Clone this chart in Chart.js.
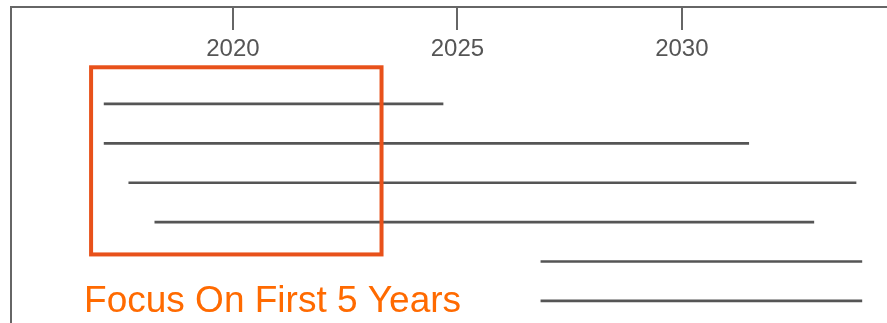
<!DOCTYPE html>
<html>
<head>
<meta charset="utf-8">
<script src="https://cdn.jsdelivr.net/npm/chart.js"></script>
<style>
  html, body { margin: 0; padding: 0; background: #fff; }
  #wrap { width: 887px; height: 323px; }
</style>
</head>
<body>
<div id="wrap"><canvas id="timeline"></canvas></div>
<script>
    // row index (top to bottom) and start / end year of each line
    var rows = [0, 1, 2, 3, 4, 5];
    var startYears = [2017.13, 2017.13, 2017.68, 2018.26, 2026.86, 2026.86];
    var endYears = [2024.68, 2031.49, 2033.88, 2032.94, 2034.01, 2034.01];
    var tickYears = [2020, 2025, 2030];

    // highlighted period
    var focusStart = 2016.84;
    var focusEnd = 2023.31;
    var focusRows = [0, 3];
    var focusLabel = 'Focus On First 5 Years';

    var lineData = [];
    for (var i = 0; i < rows.length; i++) {
        lineData.push({ x: [startYears[i], endYears[i]], y: rows[i] });
    }

    // draws the orange box and its caption from the scales
    var focusPlugin = {
        id: 'focusBox',
        afterDatasetsDraw: function (chart) {
            var ctx = chart.ctx;
            var xs = chart.scales.x;
            var ys = chart.scales.y;
            var left = xs.getPixelForValue(focusStart);
            var right = xs.getPixelForValue(focusEnd);
            var top = ys.getPixelForValue(focusRows[0] - 0.93);
            var bottom = ys.getPixelForValue(focusRows[1] + 0.82);
            ctx.save();
            ctx.strokeStyle = '#E8511A';
            ctx.lineWidth = 4;
            ctx.strokeRect(left, top, right - left, bottom - top);
            ctx.fillStyle = '#FF6A00';
            ctx.font = '37px "Liberation Sans", Arial, sans-serif';
            ctx.textBaseline = 'alphabetic';
            ctx.textAlign = 'left';
            ctx.fillText(focusLabel, left - 7, bottom + 58);
            ctx.restore();
        }
    };

    var ctx = document.getElementById('timeline').getContext('2d');
    var chart = new Chart(ctx, {
        type: 'bar',
        data: {
            datasets: [{
                data: lineData,
                backgroundColor: '#555555',
                borderWidth: 0,
                barThickness: 2
            }]
        },
        options: {
            indexAxis: 'y',
            responsive: true,
            maintainAspectRatio: false,
            animation: false,
            layout: { padding: 0 },
            plugins: {
                legend: { display: false },
                tooltip: { enabled: false }
            },
            scales: {
                x: {
                    type: 'linear',
                    position: 'top',
                    min: 2015.056,
                    max: 2034.57,
                    afterBuildTicks: function (scale) {
                        scale.ticks = tickYears.map(function (v) { return { value: v }; });
                    },
                    afterFit: function (scale) { scale.height = 7; },
                    grid: {
                        drawOnChartArea: false,
                        drawTicks: true,
                        tickLength: -23,
                        color: '#666666',
                        lineWidth: 2
                    },
                    border: { display: true, color: '#666666', width: 2 },
                    ticks: {
                        mirror: true,
                        padding: 28,
                        color: '#555555',
                        font: { family: '"Liberation Sans", Arial, sans-serif', size: 24 },
                        callback: function (v) { return String(v); }
                    }
                },
                y: {
                    type: 'linear',
                    reverse: true,
                    offset: false,
                    min: -2.46,
                    max: 5.56,
                    afterFit: function (scale) { scale.width = 11; },
                    grid: { offset: false, drawOnChartArea: false, drawTicks: false },
                    border: { display: true, color: '#666666', width: 2 },
                    ticks: { display: false }
                }
            }
        },
        plugins: [focusPlugin]
    });
</script>
</body>
</html>
